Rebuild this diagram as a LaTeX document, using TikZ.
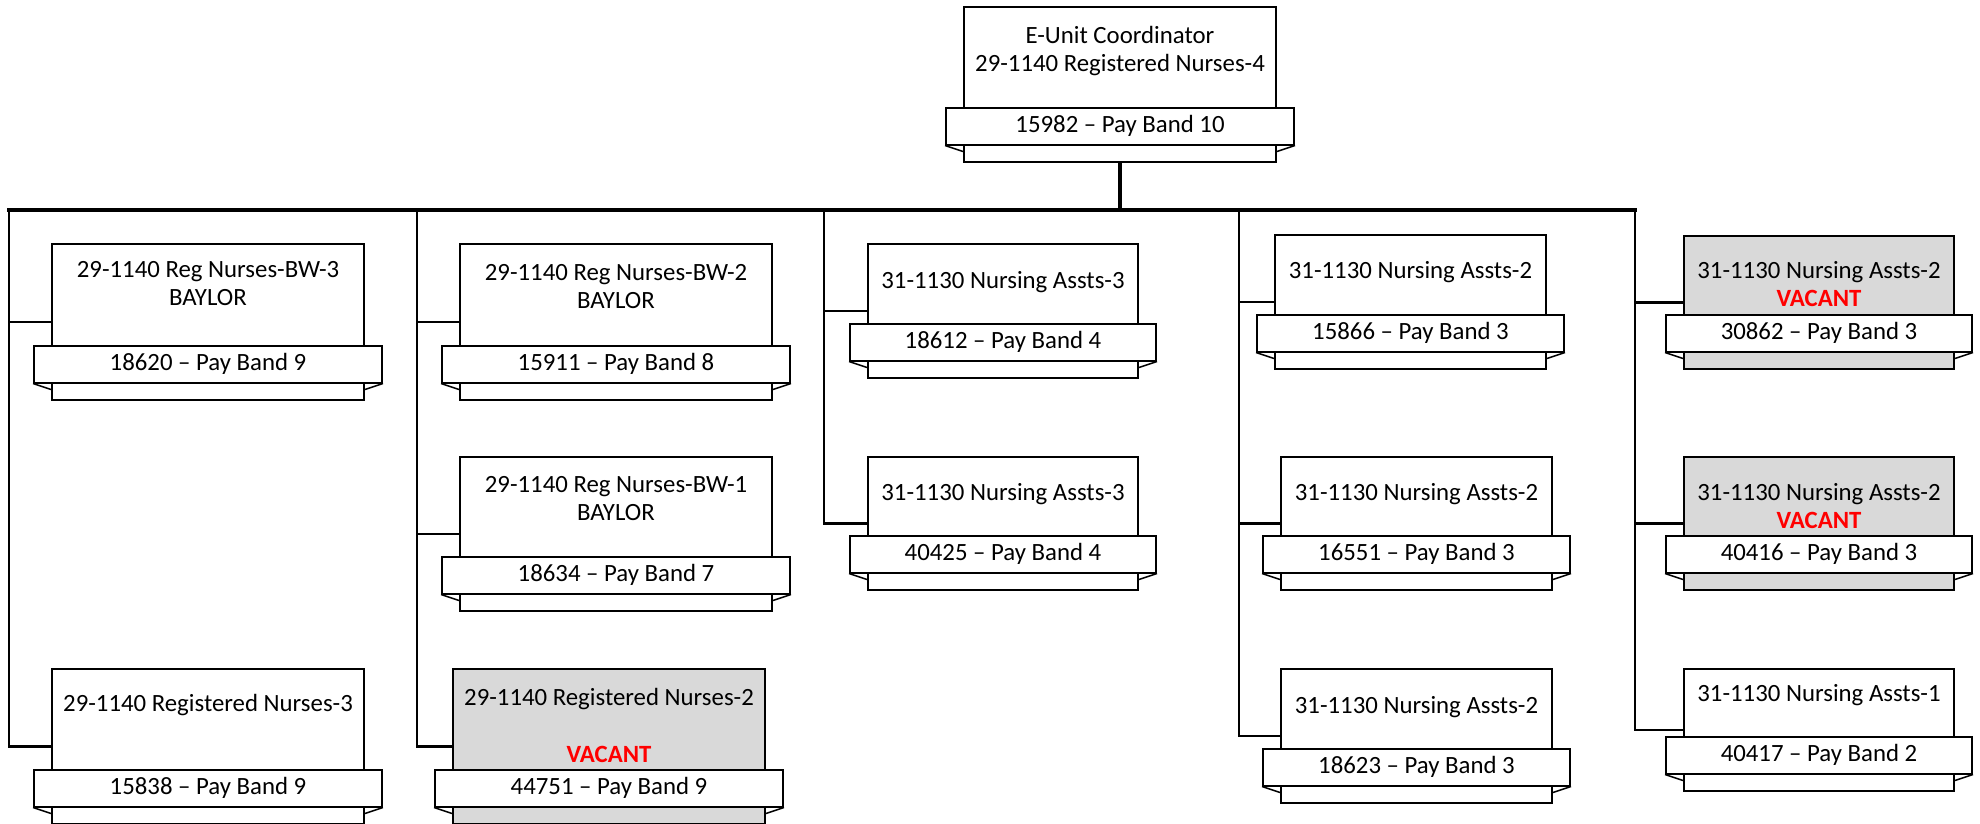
\documentclass[tikz,border=0pt]{standalone}
\usepackage{fontspec}
\setmainfont{Carlito}
\usetikzlibrary{positioning}
\definecolor{vacgray}{HTML}{D9D9D9}
\definecolor{vacred}{HTML}{FF0000}
\newcommand{\vacmark}{\textcolor{vacred}{\bfseries VACANT}}
\begin{document}
\begin{tikzpicture}[x=1pt,y=-1pt,
  every node/.style={font=\fontsize{24.8}{28.5}\selectfont},
  post/.style={draw,line width=2pt,anchor=north west,inner sep=0pt},
  band/.style={draw,line width=2pt,fill=white,minimum height=37pt,inner sep=0pt},
  title/.style={align=center,inner sep=0pt},
  bus/.style={line width=3.5pt,line cap=rect},
  link/.style={line width=2.8pt},
  wing/.style={line width=1.5pt}]
\useasboundingbox (0,0) rectangle (1980,823);
\coordinate (t1) at (9,210);
\coordinate (t2) at (417,210);
\coordinate (t3) at (824,210);
\coordinate (t4) at (1239,210);
\coordinate (t5) at (1635,210);
\foreach \n/\x/\y/\w/\h/\dy/\ti/\ba/\fc in {
  top/963/6/312/155/20/{E-Unit Coordinator\\29-1140 Registered Nurses-4}/{15982 – Pay Band 10}/white,
  rn3bw/51/243/312/156/18/{29-1140 Reg Nurses-BW-3\\BAYLOR}/{18620 – Pay Band 9}/white,
  rn3/51/668/312/155/26/{29-1140 Registered Nurses-3}/{15838 – Pay Band 9}/white,
  rn2bw/459/243/312/156/21/{29-1140 Reg Nurses-BW-2\\BAYLOR}/{15911 – Pay Band 8}/white,
  rn1bw/459/456/312/154/20/{29-1140 Reg Nurses-BW-1\\BAYLOR}/{18634 – Pay Band 7}/white,
  rn2/452/668/312/155/20/{29-1140 Registered Nurses-2\\[28.5pt]\vacmark}/{44751 – Pay Band 9}/vacgray,
  na3a/867/243/270/134/28/{31-1130 Nursing Assts-3}/{18612 – Pay Band 4}/white,
  na3b/867/456/270/133/27/{31-1130 Nursing Assts-3}/{40425 – Pay Band 4}/white,
  na2a/1274/234/271/134/27/{31-1130 Nursing Assts-2}/{15866 – Pay Band 3}/white,
  na2b/1280/456/271/133/27/{31-1130 Nursing Assts-2}/{16551 – Pay Band 3}/white,
  na2c/1280/668/271/134/28/{31-1130 Nursing Assts-2}/{18623 – Pay Band 3}/white,
  na2v1/1683/235/270/133/26/{31-1130 Nursing Assts-2\\\vacmark}/{30862 – Pay Band 3}/vacgray,
  na2v2/1683/456/270/133/27/{31-1130 Nursing Assts-2\\\vacmark}/{40416 – Pay Band 3}/vacgray,
  na1/1683/668/270/122/16/{31-1130 Nursing Assts-1}/{40417 – Pay Band 2}/white}{
  \node[post,fill=\fc,minimum width=\w pt,minimum height=\h pt] (\n) at (\x,\y) {};
  \node[title,below=\dy pt of \n.north] (\n-t) {\ti};
  \node[band,minimum width=\w pt+36pt,above=17.5pt of \n.south] (\n-b) {\ba};
  \draw[wing] (\n-b.south west) -- ([yshift=-6pt]\n-b.south west -| \n.west);
  \draw[wing] (\n-b.south east) -- ([yshift=-6pt]\n-b.south east -| \n.east);
}
\draw[bus] (t1) -- (t5);
\draw[bus] (top.south) -- (top.south |- t1);
\foreach \t/\c in {t1/rn3bw,t1/rn3,t2/rn2bw,t2/rn1bw,t2/rn2,t3/na3a,t3/na3b,
  t4/na2a,t4/na2b,t4/na2c,t5/na2v1,t5/na2v2,t5/na1}
  \draw[link] (\t) |- (\c.west);
\end{tikzpicture}
\end{document}
